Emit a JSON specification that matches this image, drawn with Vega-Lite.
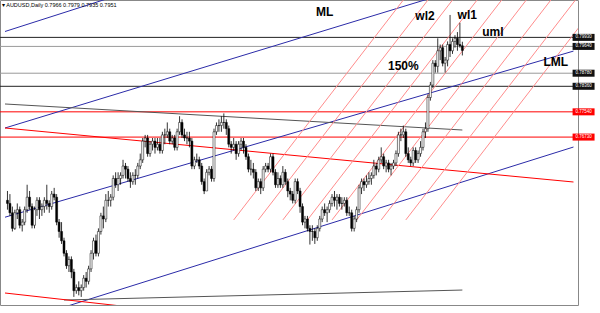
{
"$schema":"https://vega.github.io/schema/vega-lite/v6.json",
"width":578,"height":305,
"autosize":{"type":"none"},
"padding":{"left":0,"top":0,"right":22,"bottom":8},
"background":"white",
"config":{"view":{"stroke":"#888888","strokeWidth":1},"font":"Liberation Sans"},
"title":{"text":"▾ AUDUSD,Daily  0.7966 0.7979 0.7935 0.7951","orient":"top","anchor":"start","frame":"group","offset":-8,"fontSize":5.5,"fontWeight":"normal","color":"#000000","dx":2},
"datasets":{
"c":[
{"i":0,"o":0.7470,"h":0.7500,"l":0.7440,"c":0.7460},
{"i":1,"o":0.7460,"h":0.7490,"l":0.7420,"c":0.7430},
{"i":2,"o":0.7430,"h":0.7450,"l":0.7370,"c":0.7380},
{"i":3,"o":0.7380,"h":0.7440,"l":0.7375,"c":0.7430},
{"i":4,"o":0.7430,"h":0.7460,"l":0.7410,"c":0.7440},
{"i":5,"o":0.7440,"h":0.7450,"l":0.7380,"c":0.7390},
{"i":6,"o":0.7390,"h":0.7410,"l":0.7370,"c":0.7400},
{"i":7,"o":0.7400,"h":0.7450,"l":0.7390,"c":0.7440},
{"i":8,"o":0.7440,"h":0.7520,"l":0.7430,"c":0.7480},
{"i":9,"o":0.7480,"h":0.7500,"l":0.7440,"c":0.7450},
{"i":10,"o":0.7450,"h":0.7460,"l":0.7380,"c":0.7390},
{"i":11,"o":0.7390,"h":0.7450,"l":0.7380,"c":0.7440},
{"i":12,"o":0.7440,"h":0.7480,"l":0.7420,"c":0.7470},
{"i":13,"o":0.7470,"h":0.7480,"l":0.7410,"c":0.7440},
{"i":14,"o":0.7440,"h":0.7460,"l":0.7420,"c":0.7450},
{"i":15,"o":0.7450,"h":0.7480,"l":0.7430,"c":0.7470},
{"i":16,"o":0.7470,"h":0.7520,"l":0.7440,"c":0.7460},
{"i":17,"o":0.7460,"h":0.7470,"l":0.7430,"c":0.7450},
{"i":18,"o":0.7450,"h":0.7500,"l":0.7440,"c":0.7490},
{"i":19,"o":0.7490,"h":0.7510,"l":0.7470,"c":0.7480},
{"i":20,"o":0.7480,"h":0.7490,"l":0.7390,"c":0.7400},
{"i":21,"o":0.7400,"h":0.7410,"l":0.7350,"c":0.7370},
{"i":22,"o":0.7370,"h":0.7400,"l":0.7330,"c":0.7340},
{"i":23,"o":0.7340,"h":0.7350,"l":0.7290,"c":0.7300},
{"i":24,"o":0.7300,"h":0.7310,"l":0.7250,"c":0.7260},
{"i":25,"o":0.7260,"h":0.7290,"l":0.7240,"c":0.7280},
{"i":26,"o":0.7280,"h":0.7290,"l":0.7220,"c":0.7240},
{"i":27,"o":0.7240,"h":0.7250,"l":0.7160,"c":0.7180},
{"i":28,"o":0.7180,"h":0.7200,"l":0.7170,"c":0.7190},
{"i":29,"o":0.7190,"h":0.7210,"l":0.7165,"c":0.7180},
{"i":30,"o":0.7180,"h":0.7200,"l":0.7160,"c":0.7190},
{"i":31,"o":0.7190,"h":0.7230,"l":0.7180,"c":0.7220},
{"i":32,"o":0.7220,"h":0.7240,"l":0.7190,"c":0.7210},
{"i":33,"o":0.7210,"h":0.7260,"l":0.7200,"c":0.7250},
{"i":34,"o":0.7250,"h":0.7310,"l":0.7240,"c":0.7300},
{"i":35,"o":0.7300,"h":0.7350,"l":0.7280,"c":0.7340},
{"i":36,"o":0.7340,"h":0.7360,"l":0.7290,"c":0.7300},
{"i":37,"o":0.7300,"h":0.7380,"l":0.7290,"c":0.7370},
{"i":38,"o":0.7370,"h":0.7430,"l":0.7360,"c":0.7420},
{"i":39,"o":0.7420,"h":0.7450,"l":0.7380,"c":0.7410},
{"i":40,"o":0.7410,"h":0.7490,"l":0.7400,"c":0.7470},
{"i":41,"o":0.7470,"h":0.7500,"l":0.7450,"c":0.7470},
{"i":42,"o":0.7470,"h":0.7490,"l":0.7450,"c":0.7480},
{"i":43,"o":0.7480,"h":0.7550,"l":0.7470,"c":0.7540},
{"i":44,"o":0.7540,"h":0.7560,"l":0.7510,"c":0.7520},
{"i":45,"o":0.7520,"h":0.7560,"l":0.7500,"c":0.7540},
{"i":46,"o":0.7540,"h":0.7560,"l":0.7520,"c":0.7550},
{"i":47,"o":0.7550,"h":0.7600,"l":0.7540,"c":0.7580},
{"i":48,"o":0.7580,"h":0.7590,"l":0.7540,"c":0.7570},
{"i":49,"o":0.7570,"h":0.7580,"l":0.7530,"c":0.7540},
{"i":50,"o":0.7540,"h":0.7560,"l":0.7510,"c":0.7530},
{"i":51,"o":0.7530,"h":0.7560,"l":0.7520,"c":0.7550},
{"i":52,"o":0.7550,"h":0.7570,"l":0.7520,"c":0.7550},
{"i":53,"o":0.7550,"h":0.7590,"l":0.7540,"c":0.7580},
{"i":54,"o":0.7580,"h":0.7620,"l":0.7570,"c":0.7600},
{"i":55,"o":0.7600,"h":0.7670,"l":0.7590,"c":0.7660},
{"i":56,"o":0.7660,"h":0.7680,"l":0.7640,"c":0.7670},
{"i":57,"o":0.7670,"h":0.7680,"l":0.7610,"c":0.7620},
{"i":58,"o":0.7620,"h":0.7660,"l":0.7610,"c":0.7650},
{"i":59,"o":0.7650,"h":0.7670,"l":0.7630,"c":0.7660},
{"i":60,"o":0.7660,"h":0.7670,"l":0.7620,"c":0.7640},
{"i":61,"o":0.7640,"h":0.7670,"l":0.7630,"c":0.7650},
{"i":62,"o":0.7650,"h":0.7670,"l":0.7620,"c":0.7630},
{"i":63,"o":0.7630,"h":0.7690,"l":0.7620,"c":0.7680},
{"i":64,"o":0.7680,"h":0.7700,"l":0.7650,"c":0.7680},
{"i":65,"o":0.7680,"h":0.7720,"l":0.7670,"c":0.7690},
{"i":66,"o":0.7690,"h":0.7700,"l":0.7650,"c":0.7660},
{"i":67,"o":0.7660,"h":0.7680,"l":0.7650,"c":0.7670},
{"i":68,"o":0.7670,"h":0.7680,"l":0.7630,"c":0.7640},
{"i":69,"o":0.7640,"h":0.7700,"l":0.7630,"c":0.7690},
{"i":70,"o":0.7690,"h":0.7740,"l":0.7680,"c":0.7720},
{"i":71,"o":0.7720,"h":0.7730,"l":0.7670,"c":0.7680},
{"i":72,"o":0.7680,"h":0.7700,"l":0.7660,"c":0.7670},
{"i":73,"o":0.7670,"h":0.7690,"l":0.7650,"c":0.7670},
{"i":74,"o":0.7670,"h":0.7690,"l":0.7640,"c":0.7660},
{"i":75,"o":0.7660,"h":0.7670,"l":0.7570,"c":0.7580},
{"i":76,"o":0.7580,"h":0.7610,"l":0.7570,"c":0.7600},
{"i":77,"o":0.7600,"h":0.7620,"l":0.7590,"c":0.7600},
{"i":78,"o":0.7600,"h":0.7610,"l":0.7570,"c":0.7580},
{"i":79,"o":0.7580,"h":0.7590,"l":0.7520,"c":0.7530},
{"i":80,"o":0.7530,"h":0.7540,"l":0.7490,"c":0.7500},
{"i":81,"o":0.7500,"h":0.7570,"l":0.7500,"c":0.7560},
{"i":82,"o":0.7560,"h":0.7580,"l":0.7550,"c":0.7570},
{"i":83,"o":0.7570,"h":0.7580,"l":0.7530,"c":0.7540},
{"i":84,"o":0.7540,"h":0.7700,"l":0.7530,"c":0.7690},
{"i":85,"o":0.7690,"h":0.7720,"l":0.7680,"c":0.7710},
{"i":86,"o":0.7710,"h":0.7730,"l":0.7690,"c":0.7710},
{"i":87,"o":0.7710,"h":0.7740,"l":0.7690,"c":0.7720},
{"i":88,"o":0.7720,"h":0.7749,"l":0.7700,"c":0.7720},
{"i":89,"o":0.7720,"h":0.7730,"l":0.7680,"c":0.7700},
{"i":90,"o":0.7700,"h":0.7710,"l":0.7640,"c":0.7650},
{"i":91,"o":0.7650,"h":0.7660,"l":0.7620,"c":0.7640},
{"i":92,"o":0.7640,"h":0.7670,"l":0.7630,"c":0.7650},
{"i":93,"o":0.7650,"h":0.7660,"l":0.7600,"c":0.7620},
{"i":94,"o":0.7620,"h":0.7660,"l":0.7610,"c":0.7650},
{"i":95,"o":0.7650,"h":0.7670,"l":0.7630,"c":0.7660},
{"i":96,"o":0.7660,"h":0.7670,"l":0.7620,"c":0.7640},
{"i":97,"o":0.7640,"h":0.7650,"l":0.7600,"c":0.7610},
{"i":98,"o":0.7610,"h":0.7620,"l":0.7560,"c":0.7570},
{"i":99,"o":0.7570,"h":0.7600,"l":0.7550,"c":0.7570},
{"i":100,"o":0.7570,"h":0.7590,"l":0.7540,"c":0.7560},
{"i":101,"o":0.7560,"h":0.7570,"l":0.7500,"c":0.7510},
{"i":102,"o":0.7510,"h":0.7540,"l":0.7500,"c":0.7530},
{"i":103,"o":0.7530,"h":0.7540,"l":0.7490,"c":0.7510},
{"i":104,"o":0.7510,"h":0.7580,"l":0.7500,"c":0.7570},
{"i":105,"o":0.7570,"h":0.7590,"l":0.7560,"c":0.7580},
{"i":106,"o":0.7580,"h":0.7590,"l":0.7560,"c":0.7570},
{"i":107,"o":0.7570,"h":0.7620,"l":0.7560,"c":0.7610},
{"i":108,"o":0.7610,"h":0.7620,"l":0.7550,"c":0.7560},
{"i":109,"o":0.7560,"h":0.7570,"l":0.7510,"c":0.7520},
{"i":110,"o":0.7520,"h":0.7560,"l":0.7510,"c":0.7540},
{"i":111,"o":0.7540,"h":0.7550,"l":0.7510,"c":0.7520},
{"i":112,"o":0.7520,"h":0.7580,"l":0.7510,"c":0.7560},
{"i":113,"o":0.7560,"h":0.7570,"l":0.7520,"c":0.7530},
{"i":114,"o":0.7530,"h":0.7540,"l":0.7480,"c":0.7500},
{"i":115,"o":0.7500,"h":0.7510,"l":0.7470,"c":0.7490},
{"i":116,"o":0.7490,"h":0.7500,"l":0.7460,"c":0.7470},
{"i":117,"o":0.7470,"h":0.7540,"l":0.7460,"c":0.7530},
{"i":118,"o":0.7530,"h":0.7540,"l":0.7490,"c":0.7500},
{"i":119,"o":0.7500,"h":0.7510,"l":0.7430,"c":0.7450},
{"i":120,"o":0.7450,"h":0.7460,"l":0.7390,"c":0.7400},
{"i":121,"o":0.7400,"h":0.7420,"l":0.7380,"c":0.7410},
{"i":122,"o":0.7410,"h":0.7420,"l":0.7370,"c":0.7380},
{"i":123,"o":0.7380,"h":0.7390,"l":0.7328,"c":0.7370},
{"i":124,"o":0.7370,"h":0.7390,"l":0.7340,"c":0.7370},
{"i":125,"o":0.7370,"h":0.7380,"l":0.7330,"c":0.7350},
{"i":126,"o":0.7350,"h":0.7390,"l":0.7340,"c":0.7380},
{"i":127,"o":0.7380,"h":0.7420,"l":0.7370,"c":0.7410},
{"i":128,"o":0.7410,"h":0.7450,"l":0.7400,"c":0.7440},
{"i":129,"o":0.7440,"h":0.7460,"l":0.7420,"c":0.7430},
{"i":130,"o":0.7430,"h":0.7450,"l":0.7400,"c":0.7440},
{"i":131,"o":0.7440,"h":0.7470,"l":0.7430,"c":0.7460},
{"i":132,"o":0.7460,"h":0.7490,"l":0.7450,"c":0.7480},
{"i":133,"o":0.7480,"h":0.7500,"l":0.7450,"c":0.7470},
{"i":134,"o":0.7470,"h":0.7490,"l":0.7440,"c":0.7480},
{"i":135,"o":0.7480,"h":0.7490,"l":0.7450,"c":0.7460},
{"i":136,"o":0.7460,"h":0.7480,"l":0.7440,"c":0.7460},
{"i":137,"o":0.7460,"h":0.7480,"l":0.7450,"c":0.7470},
{"i":138,"o":0.7470,"h":0.7480,"l":0.7420,"c":0.7430},
{"i":139,"o":0.7430,"h":0.7450,"l":0.7420,"c":0.7430},
{"i":140,"o":0.7430,"h":0.7440,"l":0.7370,"c":0.7380},
{"i":141,"o":0.7380,"h":0.7420,"l":0.7370,"c":0.7410},
{"i":142,"o":0.7410,"h":0.7450,"l":0.7400,"c":0.7440},
{"i":143,"o":0.7440,"h":0.7520,"l":0.7430,"c":0.7510},
{"i":144,"o":0.7510,"h":0.7540,"l":0.7490,"c":0.7530},
{"i":145,"o":0.7530,"h":0.7540,"l":0.7500,"c":0.7520},
{"i":146,"o":0.7520,"h":0.7550,"l":0.7510,"c":0.7530},
{"i":147,"o":0.7530,"h":0.7560,"l":0.7520,"c":0.7540},
{"i":148,"o":0.7540,"h":0.7560,"l":0.7520,"c":0.7550},
{"i":149,"o":0.7550,"h":0.7600,"l":0.7540,"c":0.7580},
{"i":150,"o":0.7580,"h":0.7590,"l":0.7550,"c":0.7570},
{"i":151,"o":0.7570,"h":0.7610,"l":0.7560,"c":0.7600},
{"i":152,"o":0.7600,"h":0.7640,"l":0.7590,"c":0.7610},
{"i":153,"o":0.7610,"h":0.7620,"l":0.7570,"c":0.7580},
{"i":154,"o":0.7580,"h":0.7600,"l":0.7560,"c":0.7590},
{"i":155,"o":0.7590,"h":0.7600,"l":0.7560,"c":0.7570},
{"i":156,"o":0.7570,"h":0.7590,"l":0.7550,"c":0.7580},
{"i":157,"o":0.7580,"h":0.7600,"l":0.7570,"c":0.7590},
{"i":158,"o":0.7590,"h":0.7630,"l":0.7580,"c":0.7620},
{"i":159,"o":0.7620,"h":0.7690,"l":0.7610,"c":0.7680},
{"i":160,"o":0.7680,"h":0.7700,"l":0.7660,"c":0.7680},
{"i":161,"o":0.7680,"h":0.7710,"l":0.7670,"c":0.7690},
{"i":162,"o":0.7690,"h":0.7700,"l":0.7610,"c":0.7620},
{"i":163,"o":0.7620,"h":0.7640,"l":0.7590,"c":0.7600},
{"i":164,"o":0.7600,"h":0.7610,"l":0.7580,"c":0.7590},
{"i":165,"o":0.7590,"h":0.7640,"l":0.7580,"c":0.7630},
{"i":166,"o":0.7630,"h":0.7640,"l":0.7590,"c":0.7600},
{"i":167,"o":0.7600,"h":0.7630,"l":0.7590,"c":0.7620},
{"i":168,"o":0.7620,"h":0.7660,"l":0.7610,"c":0.7640},
{"i":169,"o":0.7640,"h":0.7700,"l":0.7630,"c":0.7690},
{"i":170,"o":0.7690,"h":0.7720,"l":0.7670,"c":0.7700},
{"i":171,"o":0.7700,"h":0.7810,"l":0.7690,"c":0.7800},
{"i":172,"o":0.7800,"h":0.7850,"l":0.7790,"c":0.7840},
{"i":173,"o":0.7840,"h":0.7920,"l":0.7830,"c":0.7910},
{"i":174,"o":0.7910,"h":0.7920,"l":0.7880,"c":0.7900},
{"i":175,"o":0.7900,"h":0.7990,"l":0.7880,"c":0.7950},
{"i":176,"o":0.7950,"h":0.7970,"l":0.7920,"c":0.7960},
{"i":177,"o":0.7960,"h":0.7970,"l":0.7900,"c":0.7910},
{"i":178,"o":0.7910,"h":0.7930,"l":0.7880,"c":0.7920},
{"i":179,"o":0.7920,"h":0.7980,"l":0.7900,"c":0.7970},
{"i":180,"o":0.7970,"h":0.8065,"l":0.7930,"c":0.7950},
{"i":181,"o":0.7950,"h":0.7990,"l":0.7940,"c":0.7980},
{"i":182,"o":0.7980,"h":0.8000,"l":0.7960,"c":0.7990},
{"i":183,"o":0.7990,"h":0.8010,"l":0.7950,"c":0.7970},
{"i":184,"o":0.7970,"h":0.8040,"l":0.7960,"c":0.7966},
{"i":185,"o":0.7966,"h":0.7979,"l":0.7935,"c":0.7951}
],
"hl":[
{"p":0.7993,"k":"blk"},{"p":0.7964,"k":"gry"},{"p":0.7878,"k":"gry"},{"p":0.7836,"k":"blk"},{"p":0.7754,"k":"red"},{"p":0.7673,"k":"red"}
],
"seg":[
{"id":"b1","k":"blue","i":-1,"p":0.80119},{"id":"b1","k":"blue","i":59,"p":0.81636},
{"id":"b2","k":"blue","i":-1,"p":0.77021},{"id":"b2","k":"blue","i":191,"p":0.81644},
{"id":"b3","k":"blue","i":-1,"p":0.74158},{"id":"b3","k":"blue","i":230.2,"p":0.7949},
{"id":"b4","k":"blue","i":-1,"p":0.70675},{"id":"b4","k":"blue","i":230.2,"p":0.76411},
{"id":"g1","k":"dgray","i":-1,"p":0.77792},{"id":"g1","k":"dgray","i":185,"p":0.76957},
{"id":"g2","k":"dgray","i":23,"p":0.7150},{"id":"g2","k":"dgray","i":185,"p":0.7182},
{"id":"r1","k":"redT","i":-1,"p":0.77021},{"id":"r1","k":"redT","i":230.2,"p":0.75288},
{"id":"r2","k":"redT","i":-1,"p":0.71725},{"id":"r2","k":"redT","i":79,"p":0.71019},
{"id":"p0","k":"pink","i":92,"p":0.7407},{"id":"p0","k":"pink","i":161,"p":0.8113},
{"id":"p1","k":"pink","i":102,"p":0.7407},{"id":"p1","k":"pink","i":171,"p":0.8113},
{"id":"p2","k":"pink","i":112,"p":0.7407},{"id":"p2","k":"pink","i":181,"p":0.8113},
{"id":"p3","k":"pink","i":122,"p":0.7407},{"id":"p3","k":"pink","i":191,"p":0.8113},
{"id":"p4","k":"pink","i":132,"p":0.7407},{"id":"p4","k":"pink","i":201,"p":0.8113},
{"id":"p5","k":"pink","i":142,"p":0.7407},{"id":"p5","k":"pink","i":211,"p":0.8113},
{"id":"p6","k":"pink","i":152,"p":0.7407},{"id":"p6","k":"pink","i":221,"p":0.8113},
{"id":"p7","k":"pink","i":162,"p":0.7407},{"id":"p7","k":"pink","i":231,"p":0.8113},
{"id":"p8","k":"pink","i":172,"p":0.7407},{"id":"p8","k":"pink","i":241,"p":0.8113}
],
"ann":[
{"t":"ML","i":129,"p":0.8074},{"t":"wl2","i":169.8,"p":0.8062},{"t":"wl1","i":187,"p":0.8065},
{"t":"uml","i":197.4,"p":0.8010},{"t":"LML","i":223,"p":0.7914},{"t":"150%","i":161,"p":0.7901}
]
},
"layer":[
{"data":{"name":"hl"},"mark":{"type":"rule"},
 "encoding":{
  "y":{"field":"p","type":"quantitative","scale":{"domain":[0.7134,0.8113],"nice":false,"zero":false},"axis":null},
  "color":{"field":"k","type":"nominal","scale":{"domain":["blk","gry","red","blue","pink","redT","dgray"],"range":["#222222","#9a9a9a","#ff0000","#2b2ba8","#ff8c8c","#ff0000","#555555"]},"legend":null},
  "strokeWidth":{"field":"k","type":"nominal","scale":{"domain":["blk","gry","red","blue","pink","redT","dgray"],"range":[1,1,1,1.3,0.8,1.6,1]},"legend":null}
 }},
{"data":{"name":"seg"},"mark":{"type":"line","clip":true},
 "encoding":{
  "x":{"field":"i","type":"quantitative","scale":{"domain":[-1,230],"nice":false,"zero":false},"axis":null},
  "y":{"field":"p","type":"quantitative","axis":null},
  "detail":{"field":"id","type":"nominal"},
  "color":{"field":"k","type":"nominal","legend":null},
  "strokeWidth":{"field":"k","type":"nominal","legend":null}
 }},
{"data":{"name":"c"},"mark":{"type":"rule","color":"#000000","strokeWidth":0.8},
 "encoding":{
  "x":{"field":"i","type":"quantitative","axis":{"orient":"bottom","values":[-1,7,15,23,31,39,47,55,63,71,79,87,95,103,111,119,127,135,143,151,159,167,175,183],"labelExpr":"['15 Nov 2016','25 Nov 2016','7 Dec 2016','19 Dec 2016','29 Dec 2016','11 Jan 2017','23 Jan 2017','2 Feb 2017','14 Feb 2017','24 Feb 2017','8 Mar 2017','20 Mar 2017','30 Mar 2017','11 Apr 2017','21 Apr 2017','3 May 2017','15 May 2017','25 May 2017','6 Jun 2017','16 Jun 2017','28 Jun 2017','10 Jul 2017','20 Jul 2017','1 Aug 2017'][(datum.value+1)/8]","labelFontSize":4.5,"labelAlign":"left","labelBaseline":"top","labelPadding":1,"labelColor":"#000000","tickSize":3,"tickColor":"#000000","domainColor":"#000000","grid":false,"title":null,"labelOverlap":false,"labelFlush":false}},
  "y":{"field":"l","type":"quantitative","axis":{"orient":"right","values":[0.7136,0.7171,0.7206,0.7241,0.7276,0.7311,0.7346,0.7381,0.7416,0.7451,0.7486,0.7521,0.7556,0.7591,0.7626,0.7661,0.7696,0.7731,0.7766,0.7801,0.7836,0.7871,0.7906,0.7941,0.7976,0.8011,0.8046,0.8081],"format":".5f","labelFontSize":4.5,"labelPadding":1,"labelColor":"#000000","tickSize":3,"tickColor":"#000000","domainColor":"#000000","grid":false,"title":null,"labelOverlap":false,"labelFlush":false}},
  "y2":{"field":"h"}
 }},
{"data":{"name":"c"},"mark":{"type":"bar","size":2,"stroke":"#000000","strokeWidth":0.5},
 "encoding":{
  "x":{"field":"i","type":"quantitative"},
  "y":{"field":"o","type":"quantitative"},
  "y2":{"field":"c"},
  "fill":{"condition":{"test":"datum.c < datum.o","value":"#000000"},"value":"#ffffff"}
 }},
{"data":{"name":"ann"},"mark":{"type":"text","fontWeight":"bold","fontSize":12,"font":"Liberation Sans","align":"center","baseline":"middle","color":"#000000"},
 "encoding":{
  "x":{"field":"i","type":"quantitative"},
  "y":{"field":"p","type":"quantitative"},
  "text":{"field":"t"}
 }},
{"data":{"name":"hl"},"mark":{"type":"point","shape":"M-1.57,-0.5H1.57V0.5H-1.57Z","size":196,"filled":true,"opacity":1,"strokeWidth":0},
 "encoding":{
  "x":{"datum":234.3,"type":"quantitative"},
  "y":{"field":"p","type":"quantitative"},
  "fill":{"condition":{"test":"datum.k=='red'","value":"#ff0000"},"value":"#111111"}
 }},
{"data":{"name":"hl"},"mark":{"type":"text","fontSize":4.5,"color":"#ffffff","align":"center","baseline":"middle"},
 "encoding":{
  "x":{"datum":234.3,"type":"quantitative"},
  "y":{"field":"p","type":"quantitative"},
  "text":{"field":"p","type":"quantitative","format":".5f"}
 }}
]
}
